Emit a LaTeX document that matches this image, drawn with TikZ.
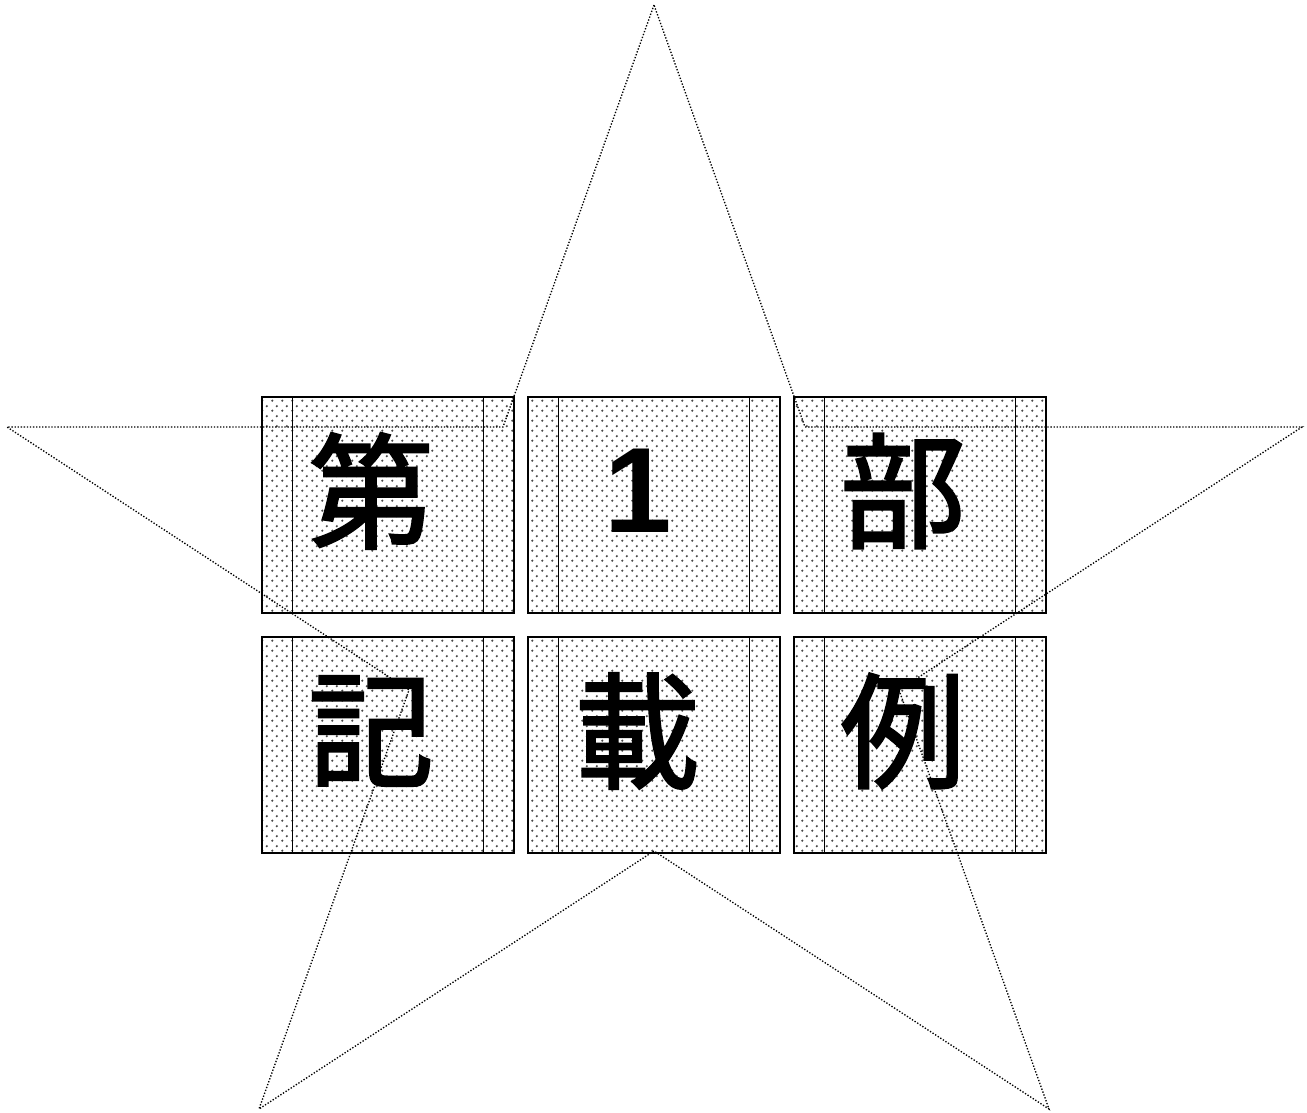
\documentclass[tikz,border=0pt]{standalone}
\usepackage{fontspec}
\newfontfamily\cjk[FakeBold=2]{Noto Sans CJK JP}
\newfontfamily\latinb{Liberation Sans}
\usetikzlibrary{patterns}
\pgfdeclarepatternformonly{stagdots}{\pgfpointorigin}{\pgfpoint{7.5pt}{7.5pt}}{\pgfpoint{7.5pt}{7.5pt}}{%
  \pgfpathcircle{\pgfpoint{1.875pt}{1.875pt}}{1pt}%
  \pgfpathcircle{\pgfpoint{5.625pt}{5.625pt}}{1pt}%
  \pgfusepath{fill}%
}
\tikzset{
  cell/.style={draw=black, line width=1.3pt, pattern=stagdots, pattern color=black!72,
    minimum width=189pt, minimum height=162pt, inner sep=0pt,
    path picture={
      \draw[line width=1pt] ([xshift=22.9pt]path picture bounding box.north west) -- ([xshift=22.9pt]path picture bounding box.south west);
      \draw[line width=1pt] ([xshift=-22.9pt]path picture bounding box.north east) -- ([xshift=-22.9pt]path picture bounding box.south east);
    }},
  glyph/.style={font=\cjk\fontsize{94pt}{94pt}\selectfont, inner sep=0pt, text=black},
  digit/.style={font=\latinb\bfseries\fontsize{91pt}{91pt}\selectfont, inner sep=0pt, text=black},
  starline/.style={line width=1pt, dash pattern=on 1pt off 1.3pt}
}
\begin{document}
\begin{tikzpicture}[x=0.75pt, y=-0.75pt]
\useasboundingbox (0,0) rectangle (1307,1113);
% boxes
\node[cell] (b1) at (388,505) {};
\node[cell] (b2) at (654,505) {};
\node[cell] (b3) at (920,505) {};
\node[cell] (b4) at (388,745) {};
\node[cell] (b5) at (654,745) {};
\node[cell] (b6) at (920,745) {};
% star outline
\coordinate (sT) at (654,5);
\coordinate (sUL) at (503,427);
\coordinate (sL) at (7,427);
\coordinate (sLL) at (409,690);
\coordinate (sBL) at (259,1109);
\coordinate (sB) at (654,851);
\coordinate (sBR) at (1049,1109);
\coordinate (sLR) at (899,690);
\coordinate (sR) at (1302,427);
\coordinate (sUR) at (805,427);
\draw[starline] (sT) -- (sUL) -- (sL) -- (sLL) -- (sBL) -- (sB) -- (sBR) -- (sLR) -- (sR) -- (sUR) -- cycle;
% texts
\node[glyph] (t1) at ([xshift=-12.75pt,yshift=10.5pt]b1.center) {第};
\node[digit] (t2) at ([xshift=-11.5pt,yshift=10.5pt]b2.center) {1};
\node[glyph] (t3) at ([xshift=-12.75pt,yshift=10.5pt]b3.center) {部};
\node[glyph] (t4) at ([xshift=-12.75pt,yshift=10.5pt]b4.center) {記};
\node[glyph] (t5) at ([xshift=-12.75pt,yshift=10.5pt]b5.center) {載};
\node[glyph] (t6) at ([xshift=-12.75pt,yshift=10.5pt]b6.center) {例};
\end{tikzpicture}
\end{document}
